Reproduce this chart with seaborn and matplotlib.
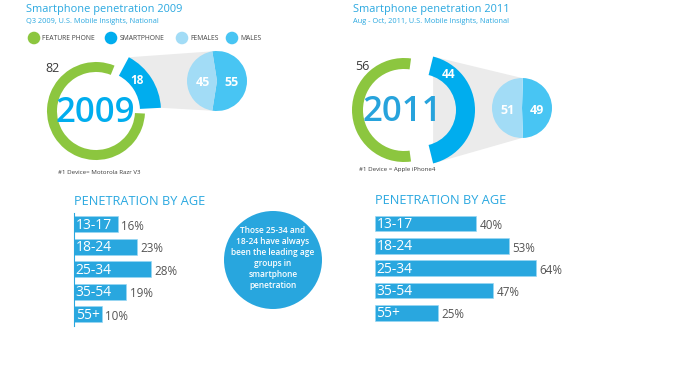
import math
import pandas as pd
import matplotlib.pyplot as plt
from matplotlib.patches import Wedge, Circle, Polygon
import seaborn as sns

years = ['2009', '2011']
titles = ['Smartphone penetration 2009', 'Smartphone penetration 2011']
subtitles = ['Q3 2009, U.S. Mobile Insights, National',
             'Aug - Oct, 2011, U.S. Mobile Insights, National']
feature_phone = [82, 56]
smartphone = [18, 44]
females = [45, 51]
males = [55, 49]
top_device = ['#1 Device= Motorola Razr V3', '#1 Device = Apple iPhone4']
legend_labels = ['FEATURE PHONE', 'SMARTPHONE', 'FEMALES', 'MALES']
age_groups = ['13-17', '18-24', '25-34', '35-54', '55+']
age_2009 = [16, 23, 28, 19, 10]
age_2011 = [40, 53, 64, 47, 25]
callout = ('Those 25-34 and\n18-24 have always\nbeen the leading age\n'
           'groups in\nsmartphone\npenetration')

GREEN = '#8cc63f'
BLUE = '#00adee'
LIGHT = '#a2dcf6'
MID = '#48c5f3'
TITLE = '#2aa8e0'
BAR = '#29a7df'
GRAY = '#ebebeb'
TEXT = '#3a3a3a'

sns.set_theme(style='white')
plt.rcParams['font.family'] = ['Open Sans', 'DejaVu Sans']

W, H = 680, 384
fig = plt.figure(figsize=(6.8, 3.84), dpi=100)
ax = fig.add_axes([0, 0, 1, 1])
ax.axis('off')


def y(v):
    # pixel rows are counted from the top in the reference
    return H - v


# layout of the two panels (pixels)
panels = [
    dict(tx=26, ring=(96, 111), gr=49, gw=10, start=0.0, boff=4, br=61, bw=21,
         pie=(217, 81), pr=30, big=(95, 113), dev=(99, 173),
         n_fp=(53, 68), n_sp=(137, 80)),
    dict(tx=353, ring=(404, 110), gr=52, gw=11, start=None, boff=16, br=55, bw=19,
         pie=(522, 108), pr=30, big=(402, 112), dev=(397, 170),
         n_fp=(362, 66), n_sp=(448, 75)),
]
gap = 3

for i, p in enumerate(panels):
    ax.text(p['tx'], y(4), titles[i], color=TITLE, fontsize=7.9, va='top')
    ax.text(p['tx'], y(18), subtitles[i], color=TITLE, fontsize=5.3, va='top')

    cx, cy = p['ring']
    span_b = 360 * smartphone[i] / 100
    start = p['start'] if p['start'] is not None else -span_b / 2
    b1, b2 = start + gap, start + span_b - gap
    g1, g2 = start + span_b + gap, start + 360 - gap

    # green feature-phone arc
    ax.add_patch(Wedge((cx, y(cy)), p['gr'], g1, g2, width=p['gw'],
                       color=GREEN, lw=0, zorder=2))
    # blue smartphone arc, pulled out to the right
    bc = (cx + p['boff'], y(cy))
    ax.add_patch(Wedge(bc, p['br'], b1, b2, width=p['bw'],
                       color=BLUE, lw=0, zorder=2))

    # grey connector from the smartphone arc to the gender pie
    px, py = p['pie']
    top = (bc[0] + p['br'] * math.cos(math.radians(b2)),
           bc[1] + p['br'] * math.sin(math.radians(b2)))
    bot = (bc[0] + p['br'] * math.cos(math.radians(b1)),
           bc[1] + p['br'] * math.sin(math.radians(b1)))
    ax.add_patch(Polygon([top, (px, y(py) + p['pr']), (px, y(py) - p['pr']), bot],
                         closed=True, color=GRAY, lw=0, zorder=1))

    # gender pie
    ang = 90 + (males[i] - 50) * 1.8
    wedges, _ = ax.pie([males[i], females[i]], colors=[MID, LIGHT],
                       center=(px, y(py)), radius=p['pr'], startangle=ang,
                       counterclock=False, frame=True,
                       wedgeprops=dict(linewidth=0))
    for w in wedges:
        w.set_zorder(3)
    ax.text(px - 14, y(py + 2), str(females[i]), color='white', fontsize=9,
            fontweight='bold', ha='center', va='center', zorder=4)
    ax.text(px + 15, y(py + 2), str(males[i]), color='white', fontsize=9,
            fontweight='bold', ha='center', va='center', zorder=4)

    ax.text(p['n_fp'][0], y(p['n_fp'][1]), str(feature_phone[i]), color=TEXT,
            fontsize=9, ha='center', va='center')
    ax.text(p['n_sp'][0], y(p['n_sp'][1]), str(smartphone[i]), color='white',
            fontsize=8.5, fontweight='bold', ha='center', va='center', zorder=4)
    ax.text(p['big'][0], y(p['big'][1]), years[i],
            color=BLUE if i == 0 else '#27a3dc', fontsize=25, fontweight='semibold',
            ha='center', va='center', zorder=4)
    ax.text(p['dev'][0], y(p['dev'][1]), top_device[i], color=TEXT,
            fontsize=4.4, ha='center', va='center')

# legend row
for lx, lab, col in zip([34, 111, 182, 232], legend_labels, [GREEN, BLUE, LIGHT, MID]):
    ax.add_patch(Circle((lx, y(38)), 6.3, color=col, lw=0))
    ax.text(lx + 8.5, y(38.5), lab, color='#444444', fontsize=4.9, va='center')

# age bars
bar_specs = [(age_2009, 74, 213.0, 112.5, 35, 2.75),
             (age_2011, 375, 212.5, 111.5, 70, 2.52)]
for j, (vals, left, top, hgt, xmax, scale) in enumerate(bar_specs):
    ax.text(left, y(top - 5), 'PENETRATION BY AGE', color=TITLE, fontsize=9.2, va='bottom')
    df = pd.DataFrame({'age': age_groups, 'pct': vals})
    bax = fig.add_axes([left / W, y(top + hgt) / H, xmax * scale / W, hgt / H])
    sns.barplot(data=df, x='pct', y='age', orient='h', color=BAR, saturation=1,
                width=0.7, edgecolor='#9ad7f3', linewidth=0.5, ax=bax)
    bax.set_xlim(0, xmax)
    bax.set_ylim(4.5, -0.5)
    bax.set_facecolor('none')
    bax.set_xlabel('')
    bax.set_ylabel('')
    bax.set_xticks([])
    bax.set_yticks([])
    for s in bax.spines.values():
        s.set_visible(False)
    if j == 0:
        bax.spines['left'].set_visible(True)
        bax.spines['left'].set_color(BAR)
        bax.spines['left'].set_linewidth(0.8)
    for k, v in enumerate(vals):
        bax.text(0.6, k + 0.04, age_groups[k], color='white', fontsize=10,
                 ha='left', va='center')
        bax.annotate(f'{v}%', (v, k), xytext=(2.5, -1.5), textcoords='offset points',
                     color='#555555', fontsize=8.4, ha='left', va='center',
                     annotation_clip=False)

# call-out bubble
ax.add_patch(Circle((273, y(260)), 49, color='#28a6de', lw=0))
ax.text(273, y(258), callout, color='white', fontsize=6, fontweight='semibold',
        ha='center', va='center', linespacing=1.3)

ax.set_xlim(0, W)
ax.set_ylim(0, H)
ax.set_aspect('auto')
fig.savefig('out.png', dpi=100, facecolor='white')
